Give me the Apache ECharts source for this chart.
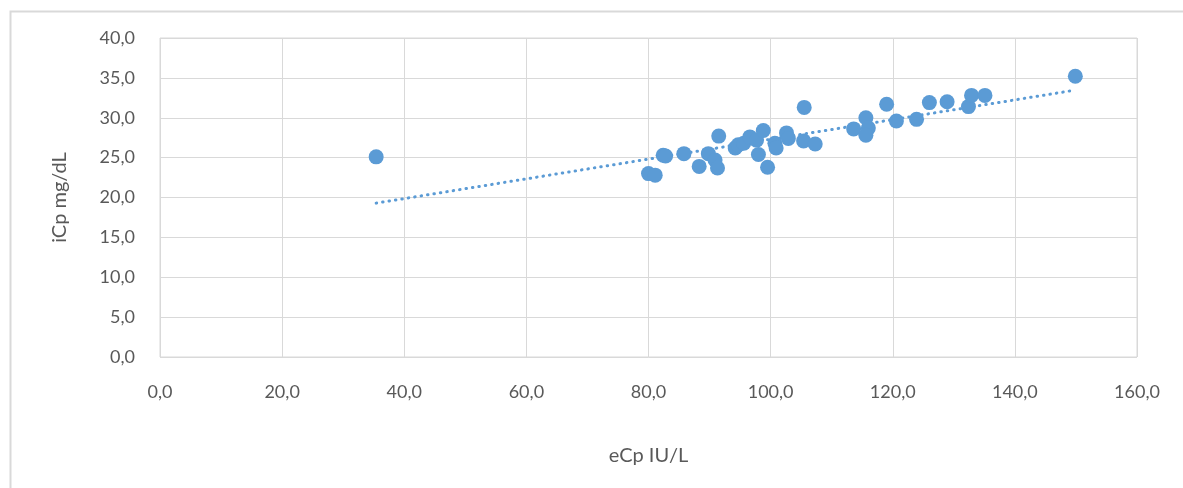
<!DOCTYPE html>
<html>
<head>
<meta charset="utf-8">
<script src="https://cdn.jsdelivr.net/npm/echarts@6/dist/echarts.min.js"></script>
<style>
html,body{margin:0;padding:0;background:#fff;}
#chart{width:1183px;height:488px;}
</style>
</head>
<body>
<div id="chart"></div>
<script>
// eCp IU/L values
const eCp = [35.4, 80.0, 81.1, 82.4, 82.8, 85.8, 88.3, 89.8, 90.9, 91.3, 91.5, 94.2, 94.7, 95.6, 96.6, 97.7, 98.0, 98.8, 99.5, 100.7, 100.9, 102.6, 102.9, 105.5, 105.4, 107.3, 113.6, 115.6, 116.0, 115.6, 119.0, 120.6, 123.9, 126.0, 128.9, 132.4, 132.9, 135.1, 149.9];
// iCp mg/dL values
const iCp = [25.1, 23.0, 22.8, 25.3, 25.2, 25.5, 23.9, 25.5, 24.7, 23.7, 27.7, 26.2, 26.6, 26.8, 27.6, 27.2, 25.4, 28.4, 23.8, 26.8, 26.2, 28.1, 27.4, 31.3, 27.1, 26.7, 28.6, 30.0, 28.7, 27.8, 31.7, 29.6, 29.8, 31.9, 32.0, 31.4, 32.8, 32.8, 35.2];
const xTicks = [0, 20, 40, 60, 80, 100, 120, 140, 160];
const yTicks = [0, 5, 10, 15, 20, 25, 30, 35, 40];

const points = eCp.map((x, i) => [x, iCp[i]]);

// linear least-squares trendline
const n = eCp.length;
const mx = eCp.reduce((a, b) => a + b, 0) / n;
const my = iCp.reduce((a, b) => a + b, 0) / n;
let sxy = 0, sxx = 0;
for (let i = 0; i < n; i++) { sxy += (eCp[i] - mx) * (iCp[i] - my); sxx += (eCp[i] - mx) ** 2; }
const slope = sxy / sxx, icpt = my - slope * mx;
const xmin = Math.min(...eCp), xmax = Math.max(...eCp);
const trend = [[xmin, icpt + slope * xmin], [xmax, icpt + slope * xmax]];

const fmt = v => v.toFixed(1).replace('.', ',');
const font = 'Lato, "Open Sans", sans-serif';
const color = '#5B9BD5';

const chart = echarts.init(document.getElementById('chart'));
chart.setOption({
  backgroundColor: '#fff',
  animation: false,
  textStyle: { fontFamily: font },
  graphic: [{
    type: 'rect', left: 8, top: 9, shape: { width: 1200, height: 500 },
    style: { fill: 'none', stroke: '#d9d9d9', lineWidth: 2 }, z: -1
  }],
  grid: { left: 160, right: 46, top: 38, bottom: 131, show: true, borderColor: '#d9d9d9', borderWidth: 1 },
  xAxis: {
    type: 'value', min: xTicks[0], max: xTicks[xTicks.length - 1], interval: 20,
    name: 'eCp IU/L', nameLocation: 'middle', nameGap: 89,
    nameTextStyle: { fontSize: 20, color: '#595959', fontFamily: font },
    axisLine: { show: false }, axisTick: { show: false },
    axisLabel: { formatter: fmt, fontSize: 18, color: '#595959', margin: 26, fontFamily: font },
    splitLine: { show: true, lineStyle: { color: '#d9d9d9', width: 1 } }
  },
  yAxis: {
    type: 'value', min: yTicks[0], max: yTicks[yTicks.length - 1], interval: 5,
    name: 'iCp mg/dL', nameLocation: 'middle', nameGap: 90,
    nameTextStyle: { fontSize: 20, color: '#595959', fontFamily: font },
    axisLine: { show: false }, axisTick: { show: false },
    axisLabel: { formatter: fmt, fontSize: 18, color: '#595959', margin: 25, fontFamily: font },
    splitLine: { show: true, lineStyle: { color: '#d9d9d9', width: 1 } }
  },
  series: [
    {
      type: 'line', data: trend, symbol: 'none', z: 1,
      lineStyle: { color: color, width: 3, type: [0.5, 6], cap: 'round' }
    },
    {
      type: 'scatter', data: points, symbol: 'circle', symbolSize: 15, z: 2,
      itemStyle: { color: color, opacity: 1 }
    }
  ]
});
</script>
</body>
</html>
